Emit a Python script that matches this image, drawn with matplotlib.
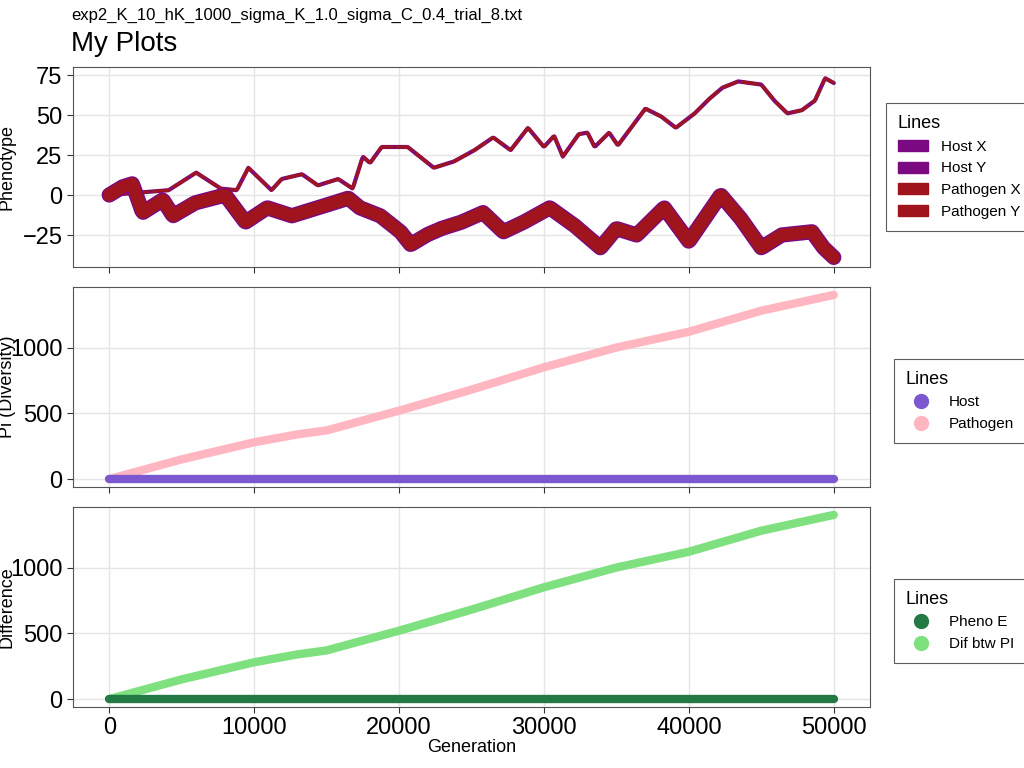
import numpy as np
import matplotlib.pyplot as plt
from matplotlib.patches import Patch
from matplotlib.lines import Line2D

# phenotype traces (generation, value)
upper_gen = [0, 4100, 6000, 7700, 8800, 9600, 11200, 11900, 13300, 14400, 15800, 16800, 17500,
             18000, 18800, 20600, 22400, 23800, 25200, 26500, 27700, 28900, 30000, 30700, 31300,
             32400, 33000, 33500, 34500, 35100, 37000, 38100, 39100, 40400, 41400, 42300, 43400,
             45000, 45900, 46800, 47800, 48700, 49400, 50000]
upper_val = [0, 3, 14, 4, 3, 17, 3, 10, 13, 6, 10, 4, 24, 20, 30, 30, 17, 21, 28, 36, 28, 42,
             30, 37, 24, 38, 39, 30, 39, 31, 54, 49, 42, 51, 60, 67, 71, 69, 59, 51, 53, 59, 73, 70]
lower_gen = [0, 900, 1600, 2300, 3700, 4400, 5900, 8000, 9400, 10900, 12600, 14400, 16500,
             17300, 18700, 20100, 20800, 21900, 22900, 24300, 25800, 27200, 28600, 30400, 32100,
             33900, 35000, 36400, 38300, 40000, 42200, 43600, 45000, 46400, 48500, 49300, 50000]
lower_val = [0, 5, 7, -11, -3, -13, -5, 0, -17, -8, -13, -8, -2, -8, -13, -23, -31, -25, -21,
             -17, -11, -23, -17, -8, -19, -33, -21, -25, -8, -29, 0, -15, -33, -25, -23, -33, -39]

pi_gen = [0, 5000, 10000, 13000, 15000, 20000, 25000, 30000, 35000, 40000, 45000, 50000]
pi_path = [0, 150, 280, 340, 370, 520, 680, 850, 1000, 1120, 1280, 1400]
pi_host = [0] * len(pi_gen)
dif_pi = [0, 150, 280, 340, 370, 520, 680, 850, 1000, 1120, 1280, 1400]
pheno_e = [0] * len(pi_gen)

plt.rcParams['font.family'] = ['Liberation Sans', 'DejaVu Sans']
fig = plt.figure(figsize=(10.24, 7.68), dpi=100)
W, H = 1024, 768
boxes = [(67, 267), (287, 487), (507, 707)]
axs = [fig.add_axes([73 / W, 1 - b / H, (870 - 73) / W, (b - t) / H]) for t, b in boxes]

def style(ax, ylabel):
    ax.set_xlim(-2500, 52500)
    ax.grid(True, color='#e5e5e5', lw=1)
    ax.set_axisbelow(True)
    for s in ax.spines.values():
        s.set_color('#555555')
        s.set_linewidth(0.8)
    ax.tick_params(labelsize=17, length=4, color='#333333')
    ax.set_ylabel(ylabel, fontsize=13)
    ax.yaxis.set_label_coords(-0.072, 0.5)
    ax.set_xticks([0, 10000, 20000, 30000, 40000, 50000])

ax = axs[0]
xs = np.linspace(0, 50000, 600)
ug = np.interp(xs, upper_gen, upper_val)
lg = np.interp(xs, lower_gen, lower_val)
ax.plot(xs, ug, color='#7b0a82', lw=3, solid_capstyle='round')
ax.plot(xs, ug, color='#a0141e', lw=2.2, ls=(0, (6, 1)))
ax.plot(xs, lg, color='#7b0a82', lw=11, solid_capstyle='round')
ax.plot(xs, lg, color='#a0141e', lw=9, solid_capstyle='round')
ax.set_ylim(-45, 80)
ax.set_yticks([75, 50, 25, 0, -25])
style(ax, 'Phenotype')
ax.tick_params(labelbottom=False)

ax = axs[1]
ax.plot(pi_gen, pi_path, color='#ffb6c1', lw=6, solid_capstyle='round')
ax.plot(pi_gen, pi_host, color='#7b58cf', lw=6, solid_capstyle='round')
ax.set_ylim(-60, 1460)
ax.set_yticks([0, 500, 1000])
style(ax, 'Pi (Diversity)')
ax.tick_params(labelbottom=False)

ax = axs[2]
ax.plot(pi_gen, dif_pi, color='#7ee07e', lw=6, solid_capstyle='round')
ax.plot(pi_gen, pheno_e, color='#237a45', lw=6, solid_capstyle='round')
ax.set_ylim(-60, 1460)
ax.set_yticks([0, 500, 1000])
style(ax, 'Difference')
ax.set_xlabel('Generation', fontsize=13, labelpad=0)

leg_kw = dict(title='Lines', loc='center left', fontsize=11, title_fontsize=13,
              frameon=True, fancybox=False, edgecolor='#333333', borderpad=0.8)
axs[0].legend(handles=[Patch(color=c, label=n) for c, n in
                       [('#7b0a82', 'Host X'), ('#7b0a82', 'Host Y'),
                        ('#a0141e', 'Pathogen X'), ('#a0141e', 'Pathogen Y')]],
              bbox_to_anchor=(1.01, 0.5), **leg_kw)
axs[1].legend(handles=[Line2D([], [], marker='o', ls='', ms=10, color=c, label=n) for c, n in
                       [('#7b58cf', 'Host'), ('#ffb6c1', 'Pathogen')]],
              bbox_to_anchor=(1.02, 0.43), **leg_kw)
axs[2].legend(handles=[Line2D([], [], marker='o', ls='', ms=10, color=c, label=n) for c, n in
                       [('#237a45', 'Pheno E'), ('#7ee07e', 'Dif btw PI')]],
              bbox_to_anchor=(1.02, 0.43), **leg_kw)
for a in axs:
    lg_ = a.get_legend()
    lg_.get_frame().set_linewidth(0.8)
    lg_._legend_box.align = 'left'

fig.text(71 / W, 1 - 15 / H, 'exp2_K_10_hK_1000_sigma_K_1.0_sigma_C_0.4_trial_8.txt',
         fontsize=12, va='center')
fig.text(71 / W, 1 - 44 / H, 'My Plots', fontsize=20, va='center')
fig.savefig('out.png', dpi=100)
